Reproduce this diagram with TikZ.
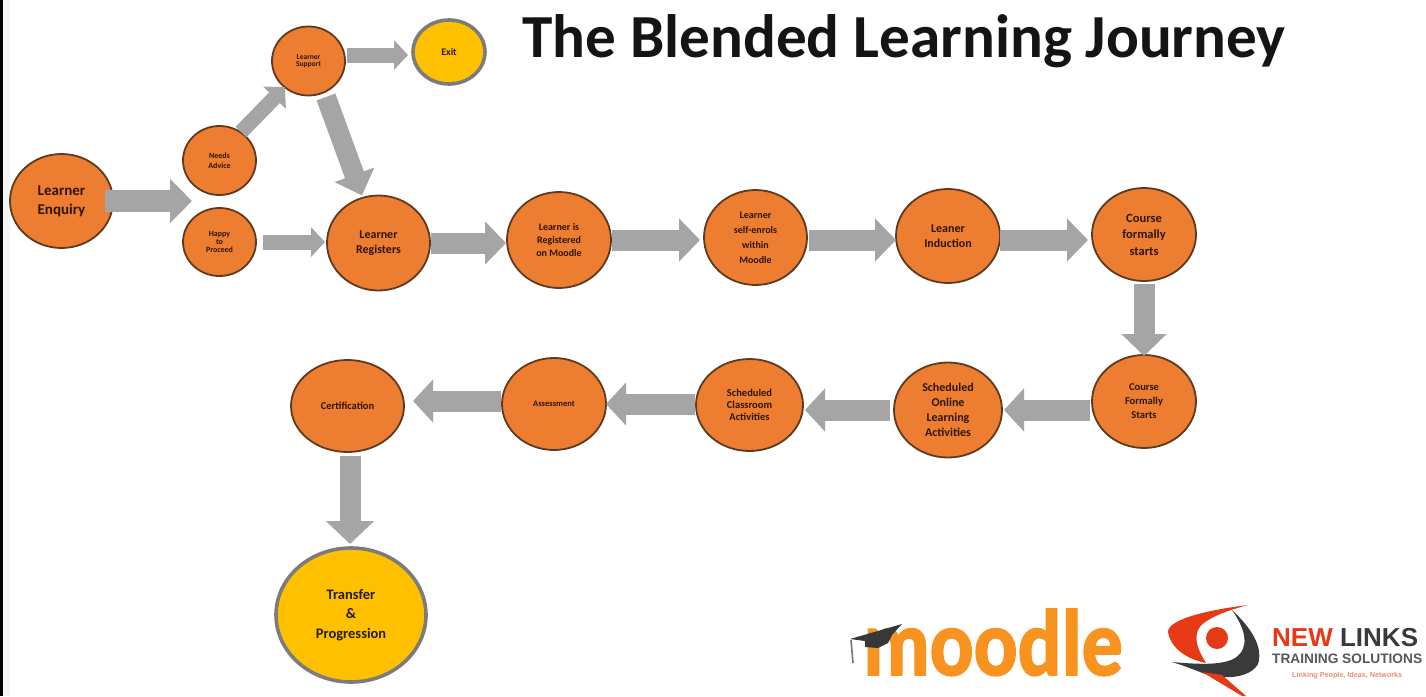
\documentclass[tikz,border=0pt]{standalone}
\usepackage{fontspec}
\setmainfont{Carlito}
\newfontfamily\nlfont{Liberation Sans}
\newfontfamily\mfont[BoldFeatures={FakeBold=2}]{Carlito}
\usetikzlibrary{arrows.meta,shapes.geometric,calc}
\definecolor{org}{HTML}{ED7D31}
\definecolor{ylw}{HTML}{FFC000}
\definecolor{arrg}{HTML}{A5A5A5}
\definecolor{edge}{HTML}{5E3A1E}
\definecolor{ink}{HTML}{2E1605}
\tikzset{
  circ/.style={ellipse,inner sep=0pt,outer sep=0pt,fill=org,draw=edge,line width=1.8pt,text=ink,align=center},
  gold/.style={circ,fill=ylw,draw=arrg!75!black,line width=3.6pt,text=black!85!ylw},
  bar/.style n args={3}{draw=arrg,line width=#1pt,-{Triangle[width=#2pt,length=#3pt,fill=arrg]}},
  bar L/.style={bar={21}{42}{21}},
  bar M/.style={bar={15}{29}{14}},
}
\newcommand{\fs}[1]{\fontsize{#1}{#1}\selectfont}
\begin{document}
\begin{tikzpicture}[x=1pt,y=-1pt]
\useasboundingbox (0,0) rectangle (1426,696);
\fill[white] (0,0) rectangle (1426,696);
\fill[black!4] (3,0) rectangle (10,696);
\coordinate (tl) at (1.5,0);
\coordinate (bl) at (1.5,696);
\draw[line width=3pt] (tl) -- (bl);

\node[anchor=center,font=\fs{61.2}\bfseries,text=black!92] (title) at (904,41) {The Blended Learning Journey};

\node[circ,minimum width=103pt,minimum height=94pt,font=\fs{15}\bfseries] (enq) at (61.5,201) {Learner\\[4pt]Enquiry};
\node[circ,minimum width=73pt,minimum height=69pt,font=\fs{8}\bfseries] (need) at (219.5,160.5) {Needs\\[2pt]Advice};
\node[circ,minimum width=73pt,minimum height=68pt,font=\fs{8}\bfseries] (happy) at (219.5,242) {Happy\\to\\Proceed};
\node[circ,minimum width=73pt,minimum height=69pt,font=\fs{7.5}\bfseries] (supp) at (308.5,61) {Learner\\Support};
\node[gold,minimum width=72pt,minimum height=64pt,font=\fs{10}\bfseries] (exit) at (449,52) {Exit};
\node[circ,minimum width=103pt,minimum height=95pt,font=\fs{12}\bfseries] (reg) at (378.5,243) {Learner\\[3pt]Registers};
\node[circ,minimum width=104pt,minimum height=96pt,font=\fs{10}\bfseries] (moo) at (559,240) {Learner is\\[3pt]Registered\\[3pt]on Moodle};
\node[circ,minimum width=103pt,minimum height=95pt,font=\fs{10}\bfseries] (self) at (755.5,237.5) {Learner\\[5pt]self-enrols\\[5pt]within\\[5pt]Moodle};
\node[circ,minimum width=104pt,minimum height=94pt,font=\fs{12}\bfseries] (ind) at (948,236) {Leaner\\[3pt]Induction};
\node[circ,minimum width=104pt,minimum height=93pt,font=\fs{12.5}\bfseries] (cf) at (1144,234.5) {Course\\[4pt]formally\\[4pt]starts};
\node[circ,minimum width=104pt,minimum height=93pt,font=\fs{10.5}\bfseries] (cs) at (1144,401.5) {Course\\[3.5pt]Formally\\[3.5pt]Starts};
\node[circ,minimum width=108pt,minimum height=95pt,font=\fs{12}\bfseries] (onl) at (948,410) {Scheduled\\[3pt]Online\\[3pt]Learning\\[3pt]Activities};
\node[circ,minimum width=107pt,minimum height=92pt,font=\fs{10.5}\bfseries] (cla) at (749.5,405) {Scheduled\\[1.5pt]Classroom\\[1.5pt]Activities};
\node[circ,minimum width=104pt,minimum height=92pt,font=\fs{8.5}\bfseries] (ass) at (554,404) {Assessment};
\node[circ,minimum width=113pt,minimum height=92pt,font=\fs{10.5}\bfseries] (cer) at (347.5,406) {Certification};
\node[gold,minimum width=150pt,minimum height=134pt,font=\fs{14.5}\bfseries] (tra) at (351,615) {Transfer\\[5pt]\&\\[5pt]Progression};

\coordinate (split) at (192,201);
\draw[bar={22}{43}{22}] ([xshift=-8pt]enq.east) -- (split);
\draw[bar M] ([xshift=7pt]happy.east) -- ([xshift=-2pt,yshift=1pt]reg.west);
\draw[bar={15}{31}{15}] ([xshift=21.5pt,yshift=-6pt]need.north) -- ([xshift=-23.5pt,yshift=8.5pt]supp.south);
\draw[bar M] ([xshift=2pt,yshift=6pt]supp.east) -- ([xshift=-5pt,yshift=-3pt]exit.west);
\draw[bar={20}{41}{22}] ([xshift=17.5pt,yshift=-1.5pt]supp.south) -- ([xshift=-16.5pt]reg.north);
\draw[bar L] ([xshift=1pt]reg.east) -- ([xshift=-1pt,yshift=-3pt]moo.west);
\draw[bar L] ([xshift=1pt]moo.east) -- ([xshift=-4pt,yshift=-2.5pt]self.west);
\draw[bar L] ([xshift=2pt,yshift=-2.5pt]self.east) -- ([yshift=-4pt]ind.west);
\draw[bar L] ([yshift=-4pt]ind.east) -- ([xshift=-4pt,yshift=-5.5pt]cf.west);
\draw[bar={21}{44}{22}] ([yshift=-3pt]cf.south) -- ([yshift=-1pt]cs.north);
\draw[bar={21}{42}{20}] ([xshift=-2pt,yshift=-8.5pt]cs.west) -- ([xshift=2pt]onl.east);
\draw[bar={21}{42}{20}] ([xshift=-4pt]onl.west) -- ([xshift=2pt,yshift=-5pt]cla.east);
\draw[bar={21}{42}{20}] ([xshift=-1pt,yshift=1pt]cla.west) -- (ass.east);
\draw[bar={21}{42}{20}] ([xshift=-1pt,yshift=3pt]ass.west) -- ([xshift=9pt,yshift=5pt]cer.east);
\draw[bar={21}{47}{23}] ([xshift=2.5pt,yshift=-4pt]cer.south) -- ([xshift=-1pt,yshift=4pt]tra.north);

% moodle logo
\definecolor{moorg}{HTML}{F7931E}
\node[anchor=base west,inner sep=0pt,font=\mfont\fs{94}\bfseries,text=moorg] (mlogo) at (863,675) {\scalebox{0.87}[1]{moodle}};
\draw[black!55,line width=1.6pt] (851,640) -- (853,663);
\fill[black!78] (850,639) -- (902,624) -- (892,635) -- (888,643) -- (878,648) -- (865,647) -- (865,641) -- cycle;

% new links logo
\definecolor{nlred}{HTML}{E63A17}
\definecolor{nldark}{HTML}{3A3A3C}
\fill[nlred] (1248,605) .. controls (1215,609) and (1168,618) .. (1168,632) .. controls (1170,645) and (1182,658) .. (1206,663) .. controls (1198,650) and (1194,640) .. (1198,630) .. controls (1202,620) and (1225,611) .. (1248,605) -- cycle;
\fill[nldark] (1232,610) .. controls (1248,625) and (1264,645) .. (1258,664) .. controls (1250,678) and (1225,680) .. (1205,674) .. controls (1195,670) and (1182,665) .. (1172,662) .. controls (1195,664) and (1222,666) .. (1235,658) .. controls (1250,648) and (1246,630) .. (1232,610) -- cycle;
\fill[nlred] (1202,672) -- (1222,675) -- (1246,696) -- (1242,696) -- cycle;
\fill[nlred] (1217,638) circle[radius=11pt];
\node[anchor=base west,inner sep=0pt,font=\nlfont\fs{26}\bfseries,text=nldark] (nl1) at (1272,646) {\textcolor{nlred}{NEW} LINKS};
\node[anchor=base west,inner sep=0pt,font=\nlfont\fs{13.7}\bfseries,text=nldark!85] (nl3) at (1272,663) {TRAINING SOLUTIONS};
\node[anchor=base west,inner sep=0pt,font=\nlfont\fs{7.2}\bfseries,text=nlred!60!white] (nl4) at (1292,677) {Linking People, Ideas, Networks};
\end{tikzpicture}
\end{document}
